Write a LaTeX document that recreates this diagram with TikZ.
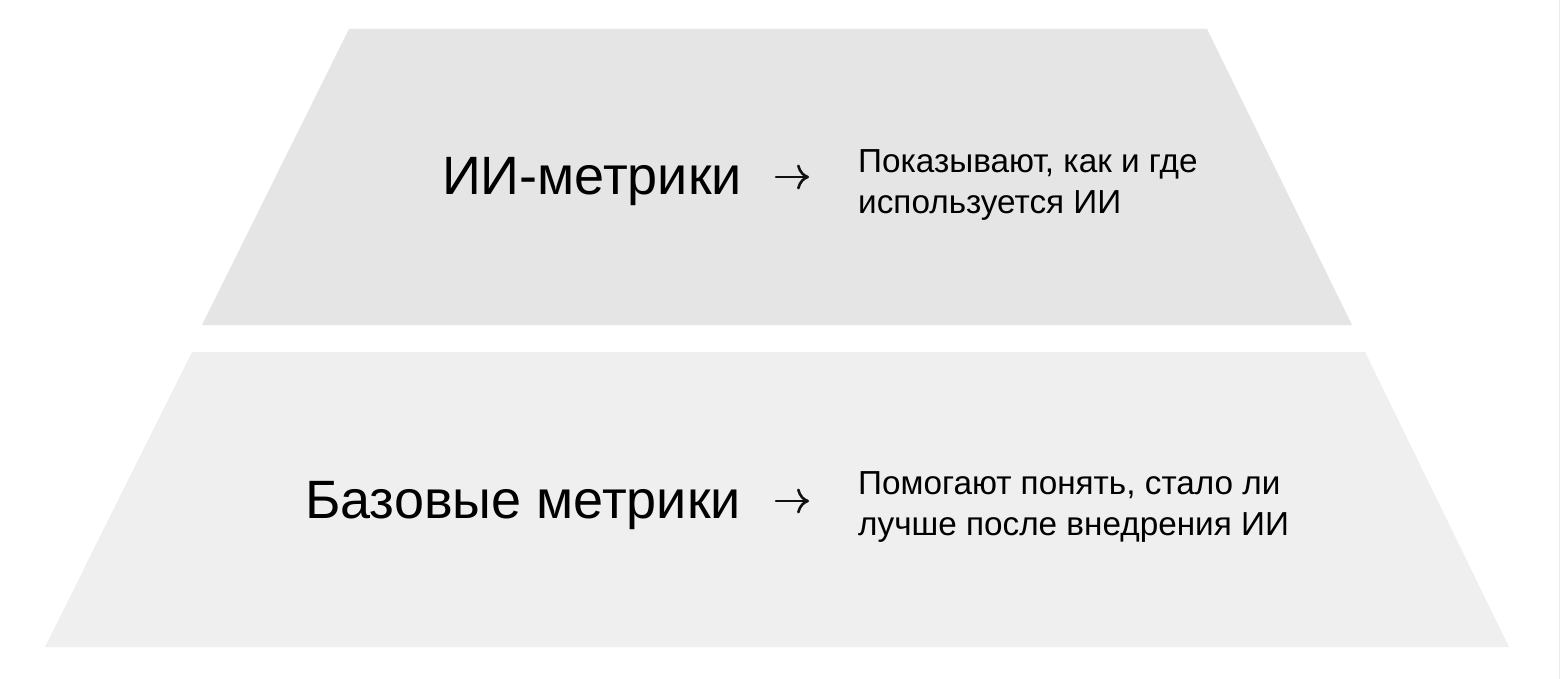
\documentclass[tikz,border=0pt]{standalone}
\usepackage{fontspec}
\setmainfont{Liberation Sans}
\usetikzlibrary{arrows.meta}
\definecolor{topfill}{HTML}{E5E5E5}
\definecolor{botfill}{HTML}{EFEFEF}
\definecolor{edgeline}{HTML}{EBEBEB}
\definecolor{inkcol}{HTML}{111111}
\tikzset{
  layer/.style={draw=none},
  biglabel/.style={inner sep=0pt, anchor=base east, font=\fontsize{54}{60}\selectfont},
  desclabel/.style={inner sep=0pt, anchor=base west, align=left, font=\fontsize{33.3}{41}\selectfont},
  pointer/.style={draw=inkcol, line width=2.6pt, line cap=round,
    -{Computer Modern Rightarrow[length=12pt, width=25pt, line width=2.6pt]}}
}
\begin{document}
\begin{tikzpicture}[x=1pt,y=-1pt]
\useasboundingbox (0,0) rectangle (1560,679);
\fill[white] (0,0) rectangle (1560,679);
\draw[edgeline, line width=1pt] (1559,0) -- (1559,679);
% layers
\fill[topfill, layer] (349,29) -- (1207,29) -- (1352,325) -- (202,325) -- cycle;
\fill[botfill, layer] (192,352) -- (1365,352) -- (1509,647) -- (45,647) -- cycle;
% top layer
\node[biglabel] (ainame) at (742,194) {ИИ-метрики};
\coordinate (aiarrowstart) at (776,177);
\coordinate (aiarrowend) at (809,177);
\draw[pointer] (aiarrowstart) -- (aiarrowend);
\node[desclabel] (aidesc) at (858,214) {Показывают, как и где\\используется ИИ};
% bottom layer
\node[biglabel] (basename) at (741,518) {Базовые метрики};
\coordinate (basearrowstart) at (776,501);
\coordinate (basearrowend) at (809,501);
\draw[pointer] (basearrowstart) -- (basearrowend);
\node[desclabel] (basedesc) at (858,535) {Помогают понять, стало ли\\лучше после внедрения ИИ};
\end{tikzpicture}
\end{document}
